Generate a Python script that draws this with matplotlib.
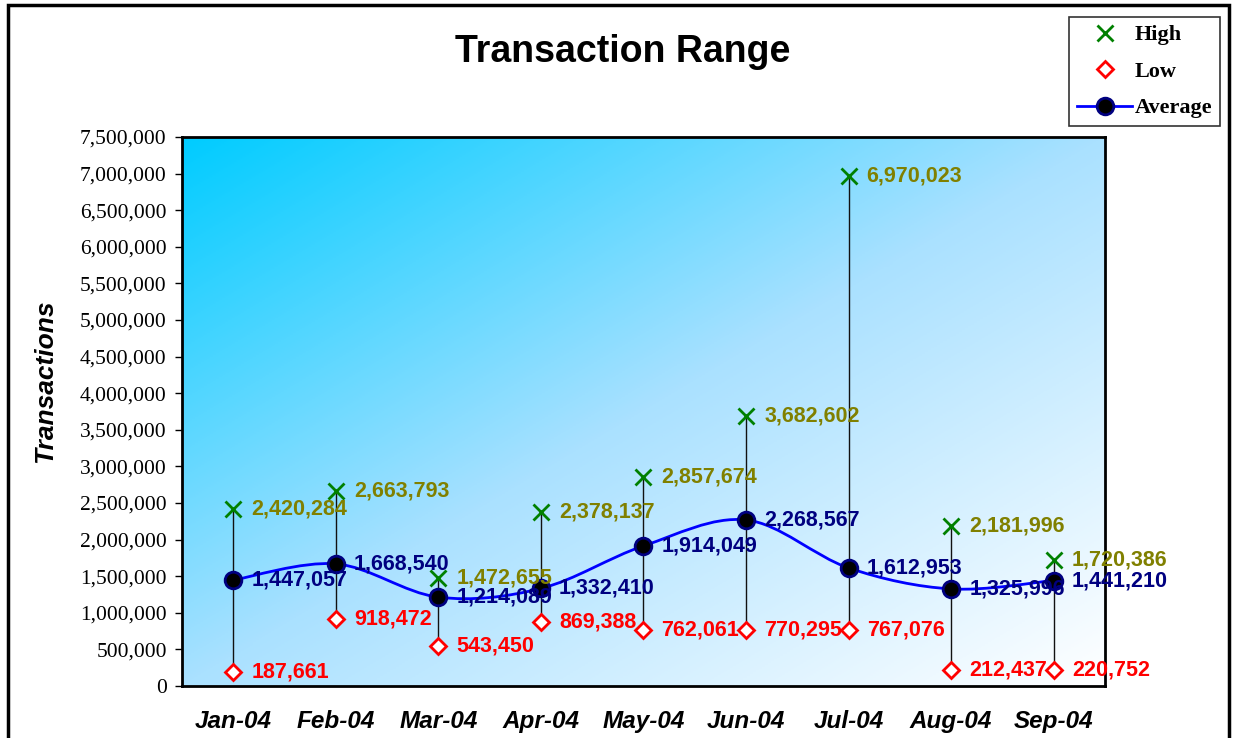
import numpy as np
import matplotlib
matplotlib.use("Agg")
import matplotlib.pyplot as plt
from matplotlib.colors import LinearSegmentedColormap
from matplotlib.lines import Line2D
from matplotlib.patches import Rectangle, PathPatch
from matplotlib.path import Path
from matplotlib.ticker import FuncFormatter, MultipleLocator

months = ["Jan-04", "Feb-04", "Mar-04", "Apr-04", "May-04", "Jun-04", "Jul-04", "Aug-04", "Sep-04"]
high = [2420284, 2663793, 1472655, 2378137, 2857674, 3682602, 6970023, 2181996, 1720386]
low = [187661, 918472, 543450, 869388, 762061, 770295, 767076, 212437, 220752]
average = [1447057, 1668540, 1214089, 1332410, 1914049, 2268567, 1612953, 1325996, 1441210]

SANS = "Liberation Sans"
SERIF = "Liberation Serif"

W, H = 1235, 738
fig = plt.figure(figsize=(W / 100, H / 100), dpi=100)
fig.patch.set_facecolor("white")

# outer chart border (bottom edge is cut off in the original)
fig.patches.append(Rectangle((8 / W, -0.1), (1229 - 8) / W, 1.1 - 5 / H, transform=fig.transFigure,
                             fill=False, edgecolor="black", linewidth=2.5, clip_on=False))

ax = fig.add_axes([182 / W, 1 - 686 / H, 923 / W, 549 / H])
x = np.arange(len(months))
ax.set_xlim(-0.5, len(months) - 0.5)
ax.set_ylim(0, 7500000)

# diagonal gradient background: cyan top-left -> white bottom-right
cmap = LinearSegmentedColormap.from_list("bg", [(0.0, "#00CCFF"), (0.5, "#AAE1FF"), (1.0, "#FFFFFF")])
gx, gy = np.meshgrid(np.linspace(0, 1, 300), np.linspace(0, 1, 300))
grad = (gx + gy) / 2
ax.imshow(grad, cmap=cmap, extent=[0, 1, 0, 1], transform=ax.transAxes, aspect="auto",
          origin="upper", zorder=0, vmin=0, vmax=1)

# high-low lines
ax.vlines(x, low, high, color="#111111", linewidth=1, zorder=2)

# smoothed average line (Catmull-Rom as Bezier)
pts = np.column_stack([x, average]).astype(float)
verts = [tuple(pts[0])]
codes = [Path.MOVETO]
n = len(pts)
for i in range(n - 1):
    p0 = pts[i - 1] if i > 0 else pts[i]
    p1 = pts[i]
    p2 = pts[i + 1]
    p3 = pts[i + 2] if i + 2 < n else pts[i + 1]
    c1 = p1 + (p2 - p0) / 6
    c2 = p2 - (p3 - p1) / 6
    verts += [tuple(c1), tuple(c2), tuple(p2)]
    codes += [Path.CURVE4] * 3
ax.add_patch(PathPatch(Path(verts, codes), fill=False, edgecolor="#0000FF", linewidth=2, zorder=3))

ax.plot(x, high, linestyle="none", marker="x", markersize=12, markeredgewidth=2,
        color="#008000", zorder=4)
ax.plot(x, low, linestyle="none", marker="D", markersize=8, markeredgewidth=2,
        markerfacecolor="white", markeredgecolor="#FF0000", zorder=4)
ax.plot(x, average, linestyle="none", marker="o", markersize=12, markeredgewidth=2,
        markerfacecolor="black", markeredgecolor="#000080", zorder=5)

lbl = dict(textcoords="offset points", va="center", ha="left", fontsize=15.5,
           fontweight="bold", family=SANS, zorder=6)
for i in range(n):
    ax.annotate(f"{high[i]:,}", (x[i], high[i]), xytext=(13, 0), color="#808000", **lbl)
    ax.annotate(f"{low[i]:,}", (x[i], low[i]), xytext=(13, 0), color="#FF0000", **lbl)
    ax.annotate(f"{average[i]:,}", (x[i], average[i]), xytext=(13, 0), color="#000080", **lbl)

# axes styling
for s in ax.spines.values():
    s.set_linewidth(2)
    s.set_color("black")
ax.yaxis.set_major_locator(MultipleLocator(500000))
ax.yaxis.set_major_formatter(FuncFormatter(lambda v, p: f"{int(v):,}"))
ax.tick_params(axis="y", direction="out", length=5, width=1, pad=6)
for t in ax.get_yticklabels():
    t.set_fontfamily(SERIF)
    t.set_fontsize(15.5)
ax.set_xticks(x)
ax.set_xticklabels(months, fontfamily=SANS, fontsize=17.5, fontweight="bold", fontstyle="italic")
ax.tick_params(axis="x", length=0, pad=17)

fig.text(45 / W, 1 - 381 / H, "Transactions", rotation=90, ha="center", va="center",
         fontsize=19, fontweight="bold", fontstyle="italic", family=SANS)
fig.text(623 / W, 1 - 52 / H, "Transaction Range", ha="center", va="center",
         fontsize=27, fontweight="bold", family=SANS)

handles = [
    Line2D([], [], linestyle="none", marker="x", markersize=12, markeredgewidth=2, color="#008000"),
    Line2D([], [], linestyle="none", marker="D", markersize=8, markeredgewidth=2,
           markerfacecolor="white", markeredgecolor="#FF0000"),
    Line2D([], [], color="#0000FF", linewidth=2, marker="o", markersize=12, markeredgewidth=2,
           markerfacecolor="black", markeredgecolor="#000080"),
]
leg = fig.legend(handles, ["High", "Low", "Average"], loc="upper right",
                 bbox_to_anchor=(1220 / W, 1 - 17 / H), frameon=True, fancybox=False,
                 borderaxespad=0, handlelength=2.5, handletextpad=0.1, labelspacing=0.72,
                 borderpad=0.35, prop=dict(family=SERIF, weight="bold", size=16))
leg.get_frame().set_edgecolor("black")
leg.get_frame().set_linewidth(1.2)

fig.savefig("out.png", dpi=100)
